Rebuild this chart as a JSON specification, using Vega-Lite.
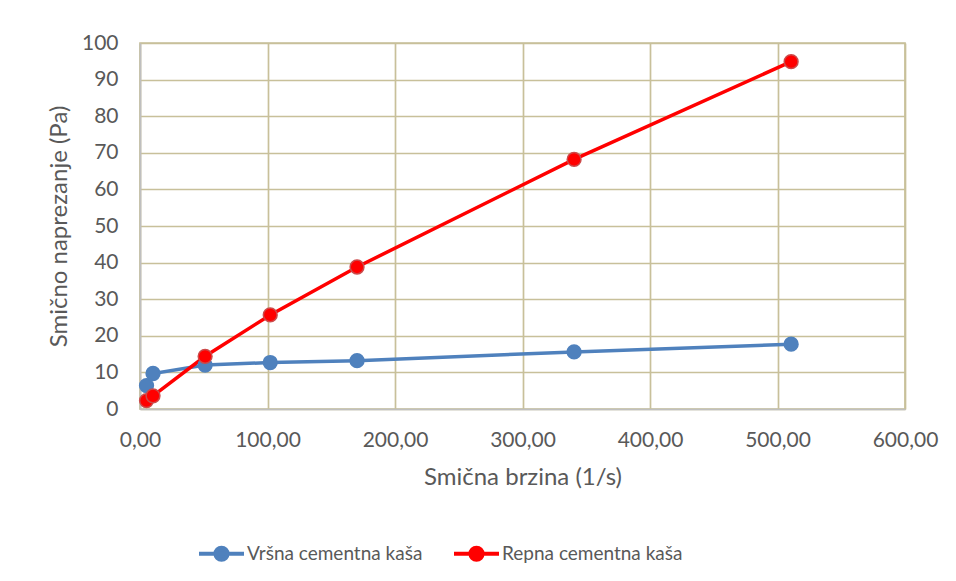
{
  "$schema": "https://vega.github.io/schema/vega-lite/v6.json",
  "width": 765,
  "height": 366,
  "autosize": {"type": "none"},
  "padding": {"left": 140, "top": 43, "right": 51, "bottom": 172},
  "background": "white",
  "config": {
    "font": "Lato",
    "view": {"stroke": "#C8C09A", "strokeWidth": 1.7},
    "axis": {
      "labelFont": "Lato",
      "titleFont": "Lato",
      "labelFontSize": 21,
      "titleFontSize": 24,
      "labelColor": "#595959",
      "titleColor": "#595959",
      "titleFontWeight": "normal",
      "labelFontWeight": "normal",
      "gridColor": "#C8C09A",
      "gridWidth": 1.7,
      "gridOpacity": 1,
      "domainColor": "#BFBFBF",
      "domainWidth": 1.7,
      "ticks": false,
      "labelFlush": false,
      "labelOverlap": false
    }
  },
  "data": {
    "values": [
      {"serija": "Vršna cementna kaša", "brzina": 5.11, "naprezanje": 6.4},
      {"serija": "Vršna cementna kaša", "brzina": 10.21, "naprezanje": 9.7},
      {"serija": "Vršna cementna kaša", "brzina": 51.07, "naprezanje": 12.0},
      {"serija": "Vršna cementna kaša", "brzina": 102.14, "naprezanje": 12.7},
      {"serija": "Vršna cementna kaša", "brzina": 170.23, "naprezanje": 13.2},
      {"serija": "Vršna cementna kaša", "brzina": 340.46, "naprezanje": 15.6},
      {"serija": "Vršna cementna kaša", "brzina": 510.69, "naprezanje": 17.7},
      {"serija": "Repna cementna kaša", "brzina": 5.11, "naprezanje": 2.3},
      {"serija": "Repna cementna kaša", "brzina": 10.21, "naprezanje": 3.6},
      {"serija": "Repna cementna kaša", "brzina": 51.07, "naprezanje": 14.4},
      {"serija": "Repna cementna kaša", "brzina": 102.14, "naprezanje": 25.7},
      {"serija": "Repna cementna kaša", "brzina": 170.23, "naprezanje": 38.8},
      {"serija": "Repna cementna kaša", "brzina": 340.46, "naprezanje": 68.2},
      {"serija": "Repna cementna kaša", "brzina": 510.69, "naprezanje": 94.9}
    ]
  },
  "encoding": {
    "x": {
      "field": "brzina",
      "type": "quantitative",
      "scale": {"domain": [0, 600], "nice": false, "zero": true},
      "axis": {
        "title": "Smična brzina (1/s)",
        "values": [0, 100, 200, 300, 400, 500, 600],
        "labelExpr": "replace(format(datum.value, '.2f'), '.', ',')",
        "labelPadding": 20,
        "titlePadding": 15
      }
    },
    "y": {
      "field": "naprezanje",
      "type": "quantitative",
      "scale": {"domain": [0, 100], "nice": false},
      "axis": {
        "title": "Smično naprezanje (Pa)",
        "values": [0, 10, 20, 30, 40, 50, 60, 70, 80, 90, 100],
        "labelPadding": 22,
        "titlePadding": 10
      }
    },
    "color": {
      "field": "serija",
      "type": "nominal",
      "scale": {
        "domain": ["Vršna cementna kaša", "Repna cementna kaša"],
        "range": ["#4F81BD", "#FF0000"]
      },
      "legend": {
        "title": null,
        "orient": "none",
        "direction": "horizontal",
        "legendX": 57,
        "legendY": 486,
        "labelFont": "Lato",
        "labelFontSize": 19,
        "labelColor": "#595959",
        "labelLimit": 0,
        "symbolType": "M-1,0L1,0M-0.27,0A0.27,0.27 0 1,1 0.27,0A0.27,0.27 0 1,1 -0.27,0Z",
        "symbolSize": 2025,
        "symbolStrokeWidth": 4,
        "symbolOpacity": 1,
        "labelOffset": 1,
        "columnPadding": 23,
        "encode": {
          "symbols": {
            "update": {
              "fill": {"scale": "color", "field": "value"},
              "stroke": {"scale": "color", "field": "value"},
              "fillOpacity": {"value": 1}
            }
          }
        }
      }
    }
  },
  "layer": [
    {
      "mark": {"type": "line", "interpolate": "linear", "strokeWidth": 3.5}
    },
    {
      "mark": {"type": "point", "filled": true, "size": 190, "opacity": 1, "shape": "circle"},
      "encoding": {
        "stroke": {
          "field": "serija",
          "type": "nominal",
          "scale": {
            "domain": ["Vršna cementna kaša", "Repna cementna kaša"],
            "range": ["#4F81BD", "#CC4A4A"]
          },
          "legend": null
        },
        "strokeWidth": {"value": 1.5}
      }
    }
  ]
}
